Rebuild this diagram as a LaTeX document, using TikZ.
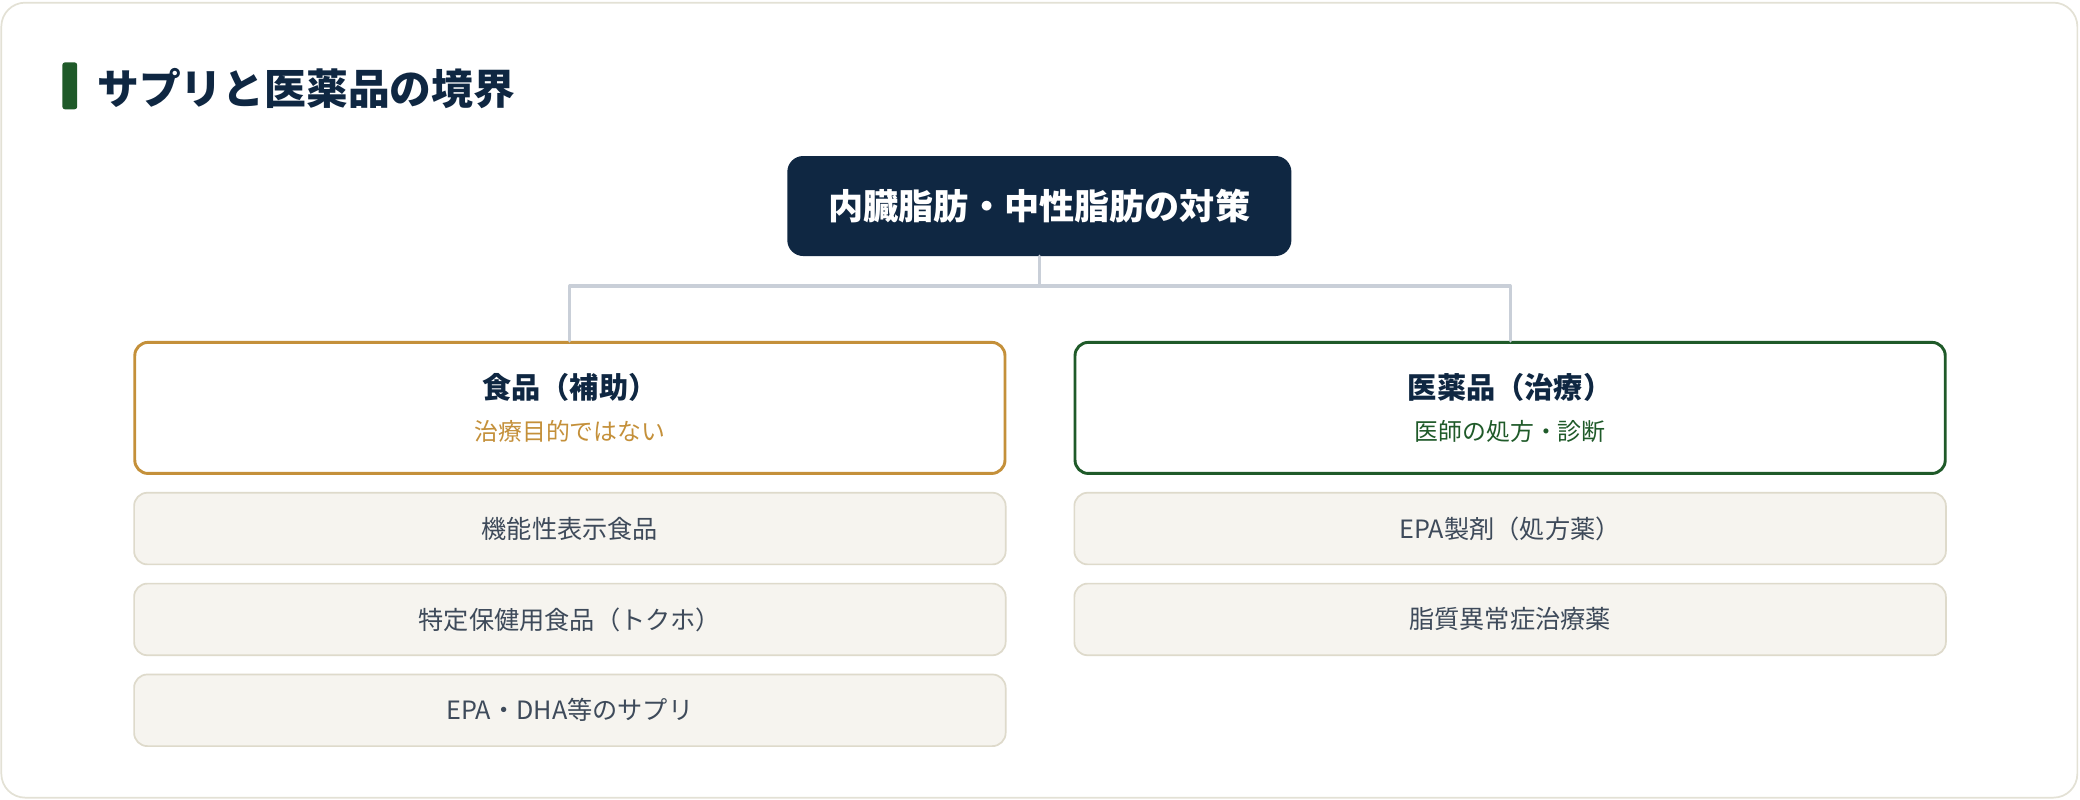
\documentclass[tikz,border=0pt]{standalone}
\usepackage{fontspec}
\setmainfont{Noto Sans CJK JP}
\usetikzlibrary{positioning}
\definecolor{navy}{HTML}{0F2742}
\definecolor{gold}{HTML}{C4903A}
\definecolor{leaf}{HTML}{1F5A29}
\definecolor{linkgray}{HTML}{C9CFD8}
\definecolor{itemfill}{HTML}{F6F4EF}
\definecolor{itemline}{HTML}{DEDACB}
\definecolor{itemtext}{HTML}{3E4A5A}
\definecolor{frameline}{HTML}{E3E1D5}
\newcommand{\headnote}[2]{{\fontsize{18}{32}\selectfont\mdseries\color{#1}#2}}
\begin{document}
\begin{tikzpicture}[x=1pt, y=1pt, line join=round, line cap=round,
	topbox/.style={fill=navy, text=white, rounded corners=12pt, minimum width=380pt, minimum height=75.4pt, inner sep=0pt, font=\fontsize{26.5}{30}\selectfont\bfseries},
	headbox/.style={fill=white, line width=2.2pt, rounded corners=10pt, minimum width=656pt, minimum height=98.8pt, inner sep=0pt, align=center, text=navy, font=\fontsize{22}{32}\selectfont\bfseries},
	itembox/.style={fill=itemfill, draw=itemline, line width=1.3pt, rounded corners=10pt, minimum width=657pt, minimum height=54pt, inner sep=0pt, text=itemtext, font=\fontsize{19}{23}\selectfont},
	link/.style={draw=linkgray, line width=2.4pt},
	node distance=13.2pt]
	\useasboundingbox (0,0) rectangle (1568,-603);
	\draw[frameline, fill=white, line width=1.3pt, rounded corners=18pt] (1,-2) rectangle (1566,-601.3);
	% heading
	\node[fill=leaf, rounded corners=2pt, minimum width=11.2pt, minimum height=35.4pt, inner sep=0pt] (mark) at (52.6,-64.7) {};
	\node[anchor=west, inner sep=0pt, text=navy, font=\fontsize{31.5}{36}\selectfont\bfseries] (title) at (73.2,-66.6) {サプリと医薬品の境界};
	% tree
	\node[topbox] (top) at (783.5,-155.3) {内臓脂肪・中性脂肪の対策};
	\node[headbox, draw=gold] (food) at (429.6,-307.5) {食品（補助）\\\headnote{gold}{治療目的ではない}};
	\node[headbox, draw=leaf] (drug) at (1138.4,-307.5) {医薬品（治療）\\\headnote{leaf}{医師の処方・診断}};
	\draw[link] (top.south) -- ++(0,-22.4) coordinate (fork) -| (food.north);
	\draw[link] (fork) -| (drug.north);
	\node[itembox, below=12.8pt of food] (food1) {機能性表示食品};
	\node[itembox, below=of food1] (food2) {特定保健用食品（トクホ）};
	\node[itembox, below=of food2] (food3) {EPA・DHA等のサプリ};
	\node[itembox, below=12.8pt of drug] (drug1) {EPA製剤（処方薬）};
	\node[itembox, below=of drug1] (drug2) {脂質異常症治療薬};
\end{tikzpicture}
\end{document}
